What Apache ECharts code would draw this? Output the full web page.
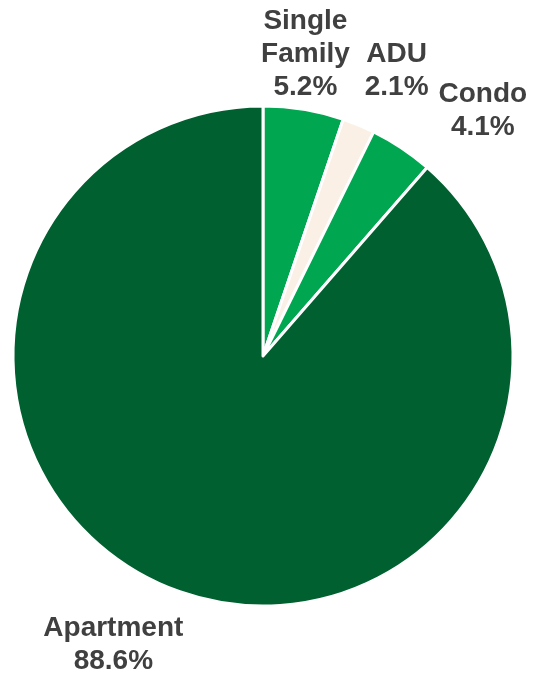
<!DOCTYPE html>
<html>
<head>
<meta charset="utf-8">
<script src="https://cdn.jsdelivr.net/npm/echarts@6/dist/echarts.min.js"></script>
<style>html,body{margin:0;padding:0;background:#fff}#chart{width:537px;height:675px}</style>
</head>
<body>
<div id="chart"></div>
<script>
var categories = ['Single Family', 'ADU', 'Condo', 'Apartment'];
var shares = [5.2, 2.1, 4.1, 88.6];
var colors = ['#00A650', '#FAF0E6', '#00A650', '#00602F'];

var center = [263, 356];
var radius = 250;
var labelDist = 310;
var labelOffsets = [[-8, 4], [15, 1], [48, 13], [-41, -2]];

var total = shares.reduce(function (a, b) { return a + b; }, 0);
var midAngles = [];
var acc = 0;
shares.forEach(function (v) {
  midAngles.push((acc + v / 2) / total * 2 * Math.PI);
  acc += v;
});

var chart = echarts.init(document.getElementById('chart'));
chart.setOption({
  animation: false,
  series: [{
    type: 'pie',
    center: center,
    radius: radius,
    startAngle: 90,
    clockwise: true,
    avoidLabelOverlap: false,
    data: categories.map(function (c, i) {
      return { name: c, value: shares[i], itemStyle: { color: colors[i] } };
    }),
    itemStyle: { borderColor: '#ffffff', borderWidth: 3 },
    label: {
      show: true,
      position: 'outside',
      formatter: function (p) { return p.name.replace(/ /g, '\n') + '\n' + p.value + '%'; },
      fontFamily: 'Liberation Sans, Arial, sans-serif',
      fontWeight: 'bold',
      fontSize: 28,
      lineHeight: 33,
      color: '#404040',
      align: 'center'
    },
    labelLine: { show: false },
    labelLayout: function (p) {
      var i = p.dataIndex;
      var a = midAngles[i];
      return {
        x: center[0] + labelDist * Math.sin(a) + labelOffsets[i][0],
        y: center[1] - labelDist * Math.cos(a) + labelOffsets[i][1],
        align: 'center',
        verticalAlign: 'middle'
      };
    },
    emphasis: { disabled: true }
  }]
});
</script>
</body>
</html>
